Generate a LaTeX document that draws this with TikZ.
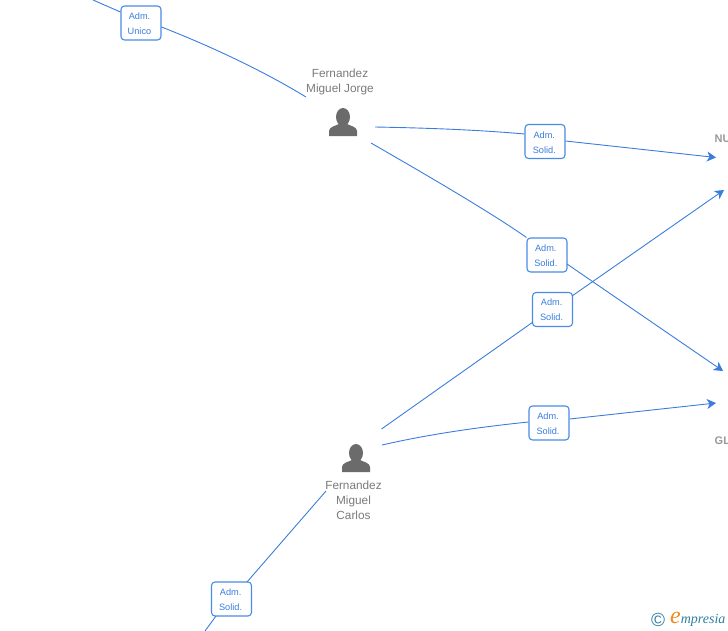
\documentclass[tikz,border=0pt]{standalone}
\usepackage{fontspec}
\setmainfont{Liberation Sans}
\newfontfamily\logofont{Liberation Serif}
\usetikzlibrary{arrows.meta}
\definecolor{linkblue}{HTML}{3B7DDD}
\definecolor{boxblue}{HTML}{4A8BE6}
\definecolor{greytext}{HTML}{7A7A7A}
\definecolor{icongrey}{HTML}{6B6B6B}
\definecolor{cotext}{HTML}{999999}
\definecolor{logoteal}{HTML}{2F7F9F}
\definecolor{logoorange}{HTML}{F08A1D}
\tikzset{
  rolebox/.style={draw=boxblue,line width=1.1pt,rounded corners=3.5pt,fill=white,minimum width=40pt,minimum height=34pt,inner sep=0pt},
  rolelabel/.style={align=center,text=linkblue,font=\fontsize{9.2}{15}\selectfont,inner sep=0pt},
  link/.style={draw=linkblue,line width=0.9pt},
  linkarrow/.style={link,-{Stealth[length=9pt,width=10pt,inset=2.5pt]}},
  personname/.style={text=greytext,align=center,font=\fontsize{11.8}{15}\selectfont,inner sep=0pt},
  company/.style={text=cotext,font=\bfseries\fontsize{11}{13}\selectfont,inner sep=0pt,anchor=west},
  personicon/.style={minimum width=30pt,minimum height=30pt,inner sep=0pt},
  icon/.style={fill=icongrey,draw=none}
}
\newcommand{\personglyph}[1]{%
  \begin{scope}[shift={(#1)}]
  \fill[icon] (0,-5) ellipse [x radius=7, y radius=9];
  \fill[icon] (-14,14) -- (-14,9) .. controls (-14,5) and (-8,4) .. (-4,2)
     -- (4,2) .. controls (8,4) and (14,5) .. (14,9) -- (14,14) -- cycle;
  \end{scope}%
}
\begin{document}
\begin{tikzpicture}[x=1pt,y=-1pt]
\useasboundingbox (0,0) rectangle (728,630);
\clip (0,0) rectangle (728,630);
% free ends
\coordinate (a0) at (93,0);
\coordinate (a1) at (306,97);
\coordinate (j1s) at (375,127);
\coordinate (j2s) at (371,143);
\coordinate (c1s) at (381.5,429);
\coordinate (c2s) at (382,445);
\coordinate (c3s) at (326,491);
\coordinate (nu1) at (716,157.5);
\coordinate (gl1) at (723,371);
\coordinate (nu2) at (724,190);
\coordinate (gl2) at (716,403);
\coordinate (z0) at (205,631);
% boxes
\node[rolebox] (b1) at (141,23) {};
\node[rolebox] (b2) at (545,141.5) {};
\node[rolebox] (b3) at (547,255) {};
\node[rolebox] (b4) at (552.5,309.5) {};
\node[rolebox] (b5) at (549,423) {};
\node[rolebox] (b6) at (231.5,599) {};
\node[rolelabel] (t1) at (139.5,23.5) {Adm.\\Unico};
\node[rolelabel] (t2) at (544.3,142.5) {Adm.\\Solid.};
\node[rolelabel] (t3) at (545.8,255.5) {Adm.\\Solid.};
\node[rolelabel] (t4) at (551.6,309.5) {Adm.\\Solid.};
\node[rolelabel] (t5) at (548,423.5) {Adm.\\Solid.};
\node[rolelabel] (t6) at (230.6,599.5) {Adm.\\Solid.};
% connectors
\draw[link] (a0) -- (b1.west |- 0,12);
\draw[link] (b1.east |- 0,27) .. controls (215,48) and (265,72) .. (a1);
\draw[link] (j1s) .. controls (430,128) and (480,130) .. (b2.west |- 0,134);
\draw[linkarrow] (b2.east |- 0,141) -- (nu1);
\draw[link] (j2s) .. controls (430,177) and (490,212) .. (b3.north west);
\draw[linkarrow] (567,264) -- (gl1);
\draw[link] (c1s) -- (533,322);
\draw[linkarrow] (572,296) -- (nu2);
\draw[link] (c2s) .. controls (430,434) and (480,427) .. (b5.west |- 0,422);
\draw[linkarrow] (b5.east |- 0,419) -- (gl2);
\draw[link] (c3s) -- (247,582);
\draw[link] (216,616) -- (z0);
% people
\node[personname] (n1) at (340,81.5) {Fernandez\\Miguel Jorge};
\node[personicon] (p1) at (343,122) {};
\personglyph{p1}
\node[personicon] (p2) at (356,458) {};
\personglyph{p2}
\node[personname] (n2) at (353.5,500) {Fernandez\\Miguel\\Carlos};
% companies, cut by the edge
\node[company] (nu) at (714.5,138.5) {NU};
\node[company] (gl) at (714.5,440.5) {GL};
% logo
\node[inner sep=0pt,text=logoteal,font=\fontsize{19}{19}\selectfont] (copy) at (658,619.5) {\textcopyright};
\node[inner sep=0pt,anchor=base west,text=logoteal,font=\logofont\itshape\fontsize{14}{14}\selectfont] (logo) at (670,623) {\textcolor{logoorange}{\fontsize{24}{24}\selectfont e}mpresia};
\end{tikzpicture}
\end{document}
